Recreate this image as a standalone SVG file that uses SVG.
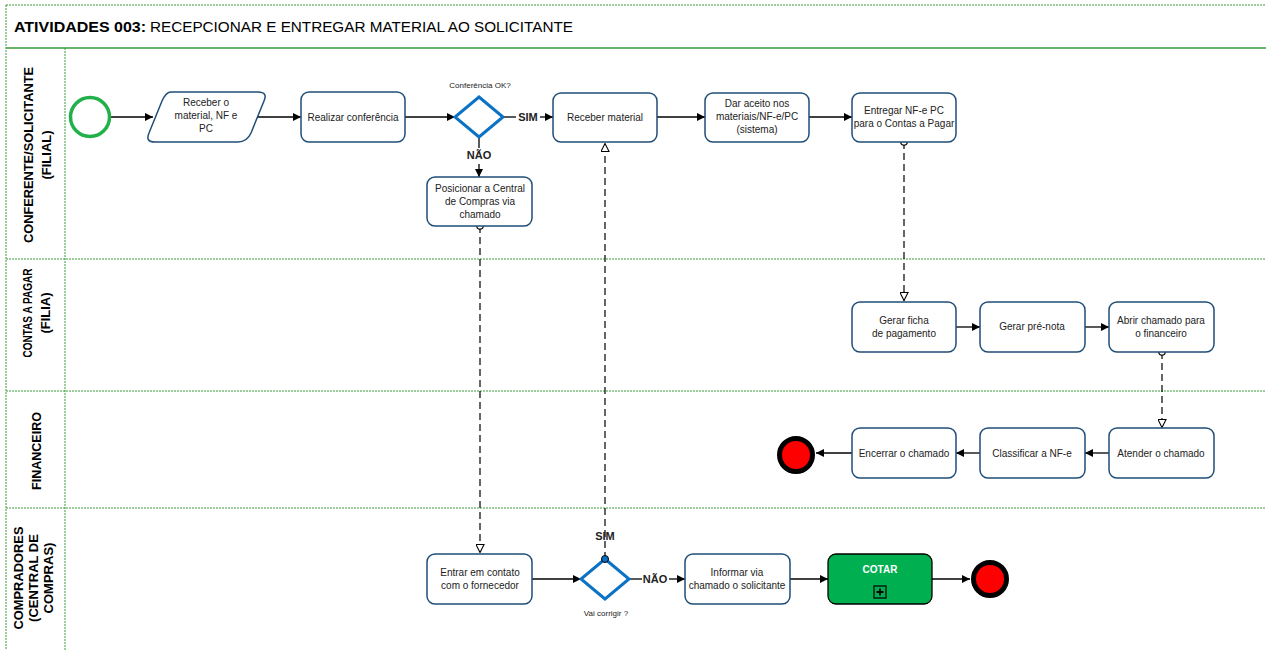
<svg xmlns="http://www.w3.org/2000/svg" width="1266" height="650" viewBox="0 0 1266 650">
<style>
.frame{fill:none;stroke:#3a9b3a;stroke-width:1;stroke-dasharray:2,1}
.lane{font-family:"Liberation Sans",Arial,sans-serif;font-size:13px;font-weight:bold;fill:#000;text-anchor:middle}
.task{fill:#fff;stroke:#1f4e79;stroke-width:1.5}
.t{font-family:"Liberation Sans",Arial,sans-serif;font-size:10px;fill:#222;text-anchor:middle}
.small{font-family:"Liberation Sans",Arial,sans-serif;font-size:8px;fill:#222;text-anchor:middle}
.lbl{font-family:"Liberation Sans",Arial,sans-serif;font-size:11px;font-weight:bold;fill:#222;text-anchor:middle}
.title{font-family:"Liberation Sans",Arial,sans-serif;font-size:15px;fill:#000}
.flow{fill:none;stroke:#000;stroke-width:1.3;marker-end:url(#arr)}
.msg{fill:none;stroke:#000;stroke-width:1.2;stroke-dasharray:7,4;marker-start:url(#circ);marker-end:url(#open)}
.gw{fill:#fff;stroke:#0b72c4;stroke-width:3}
.end{fill:#f00;stroke:#000;stroke-width:5}
</style>
<defs>
<marker id="arr" viewBox="0 0 10 10" refX="10" refY="5" markerWidth="8" markerHeight="8" markerUnits="userSpaceOnUse" orient="auto"><path d="M0,0L10,5L0,10z" fill="#000"/></marker>
<marker id="open" viewBox="0 0 10 10" refX="10" refY="5" markerWidth="9" markerHeight="9" markerUnits="userSpaceOnUse" orient="auto"><path d="M0.5,0.5L9.5,5L0.5,9.5z" fill="#fff" stroke="#000" stroke-width="1.2"/></marker>
<marker id="circ" viewBox="0 0 10 10" refX="5" refY="5" markerWidth="8" markerHeight="8" markerUnits="userSpaceOnUse" orient="auto"><circle cx="5" cy="5" r="4" fill="#fff" stroke="#000" stroke-width="1.5"/></marker>
</defs>
<rect x="0" y="0" width="1266" height="650" fill="#fff"/>
<g id="pool">
<rect class="frame" x="6" y="5" width="1270" height="660"/>
<line x1="6" y1="48" x2="1266" y2="48" stroke="#3a9b3a" stroke-width="1.5"/>
<line class="frame" x1="65" y1="48" x2="65" y2="650"/>
<line class="frame" x1="6" y1="259" x2="1266" y2="259"/>
<line class="frame" x1="6" y1="391" x2="1266" y2="391"/>
<line class="frame" x1="6" y1="508" x2="1266" y2="508"/>
<text class="title" x="14" y="32" font-weight="bold" textLength="132" lengthAdjust="spacingAndGlyphs">ATIVIDADES 003:</text>
<text class="title" x="150" y="32" textLength="423" lengthAdjust="spacingAndGlyphs">RECEPCIONAR E ENTREGAR MATERIAL AO SOLICITANTE</text>
<text class="lane" transform="translate(37,155) rotate(-90)"><tspan x="0" y="-4" textLength="176" lengthAdjust="spacingAndGlyphs">CONFERENTE/SOLICITANTE</tspan><tspan x="0" y="14">(FILIAL)</tspan></text>
<text class="lane" transform="translate(36,313) rotate(-90)"><tspan x="0" y="-4" textLength="89" lengthAdjust="spacingAndGlyphs">CONTAS A PAGAR</tspan><tspan x="0" y="14">(FILIA)</tspan></text>
<text class="lane" transform="translate(36,451) rotate(-90)"><tspan x="0" y="5" textLength="78" lengthAdjust="spacingAndGlyphs">FINANCEIRO</tspan></text>
<text class="lane" transform="translate(34,578) rotate(-90)"><tspan x="0" y="-11" textLength="103" lengthAdjust="spacingAndGlyphs">COMPRADORES</tspan><tspan x="0" y="4">(CENTRAL DE</tspan><tspan x="0" y="19">COMPRAS)</tspan></text>
</g>
<g id="connectors">
<line class="flow" x1="111" y1="117" x2="153" y2="117"/>
<line class="flow" x1="258" y1="117" x2="301" y2="117"/>
<line class="flow" x1="405" y1="117" x2="455" y2="117"/>
<line class="flow" x1="503" y1="117" x2="516" y2="117" style="marker-end:none"/>
<line class="flow" x1="540" y1="117" x2="553" y2="117"/>
<text class="lbl" x="528" y="121">SIM</text>
<line class="flow" x1="657" y1="117" x2="705" y2="117"/>
<line class="flow" x1="809" y1="117" x2="852" y2="117"/>
<line class="flow" x1="479" y1="137" x2="479" y2="148" style="marker-end:none"/>
<text class="lbl" x="479" y="159">NÃO</text>
<line class="flow" x1="479" y1="164" x2="479" y2="177"/>
<path class="msg" d="M480,226 L480,553"/>
<path class="msg" d="M904,142 L904,301"/>
<path class="msg" d="M1162,352 L1162,428"/>
<path class="msg" d="M605,559 L605,143" style="marker-start:none"/>
<text class="lbl" x="605" y="540">SIM</text>
<line class="flow" x1="956" y1="327" x2="980" y2="327"/>
<line class="flow" x1="1085" y1="327" x2="1109" y2="327"/>
<line class="flow" x1="1109" y1="453" x2="1085" y2="453"/>
<line class="flow" x1="980" y1="453" x2="956" y2="453"/>
<line class="flow" x1="852" y1="453" x2="816" y2="453"/>
<line class="flow" x1="532" y1="579" x2="581" y2="579"/>
<line class="flow" x1="629" y1="579" x2="642" y2="579" style="marker-end:none"/>
<text class="lbl" x="655" y="583">NÃO</text>
<line class="flow" x1="669" y1="579" x2="685" y2="579"/>
<line class="flow" x1="790" y1="579" x2="828" y2="579"/>
<line class="flow" x1="932" y1="579" x2="970" y2="579"/>
</g>
<g id="start"><circle cx="90" cy="117" r="19.5" fill="#fff" stroke="#22b04b" stroke-width="3.5"/></g>
<g id="receber-nf">
<path class="task" d="M171,92 L258,92 Q268,92 264,101 L251,133 Q247,142 238,142 L155,142 Q145,142 149,133 L162,101 Q166,92 171,92 Z"/>
<text class="t" x="206" y="106">Receber o</text><text class="t" x="206" y="119">material, NF e</text><text class="t" x="206" y="132">PC</text>
</g>
<g id="realizar"><rect class="task" x="301" y="92" width="104" height="50" rx="8"/><text class="t" x="353" y="121">Realizar conferência</text></g>
<g id="gw1"><path class="gw" d="M479,97 L503,117 L479,137 L455,117 Z"/><text class="small" x="480" y="88">Conferência OK?</text></g>
<g id="receber-mat"><rect class="task" x="553" y="93" width="104" height="49" rx="8"/><text class="t" x="605" y="121">Receber material</text></g>
<g id="dar-aceito"><rect class="task" x="705" y="93" width="104" height="49" rx="8"/><text class="t" x="757" y="107">Dar aceito nos</text><text class="t" x="757" y="120">materiais/NF-e/PC</text><text class="t" x="757" y="133">(sistema)</text></g>
<g id="entregar"><rect class="task" x="852" y="93" width="104" height="49" rx="8"/><text class="t" x="904" y="114">Entregar NF-e PC</text><text class="t" x="904" y="127">para o Contas a Pagar</text></g>
<g id="posicionar"><rect class="task" x="427" y="177" width="105" height="49" rx="8"/><text class="t" x="480" y="192">Posicionar a Central</text><text class="t" x="480" y="205">de Compras via</text><text class="t" x="480" y="218">chamado</text></g>
<g id="gerar-ficha"><rect class="task" x="852" y="302" width="104" height="50" rx="8"/><text class="t" x="904" y="324">Gerar ficha</text><text class="t" x="904" y="337">de pagamento</text></g>
<g id="pre-nota"><rect class="task" x="980" y="302" width="105" height="50" rx="8"/><text class="t" x="1032" y="330">Gerar pré-nota</text></g>
<g id="abrir"><rect class="task" x="1109" y="302" width="105" height="50" rx="8"/><text class="t" x="1161" y="324">Abrir chamado para</text><text class="t" x="1161" y="337">o financeiro</text></g>
<g id="atender"><rect class="task" x="1109" y="428" width="105" height="50" rx="8"/><text class="t" x="1161" y="457">Atender o chamado</text></g>
<g id="classificar"><rect class="task" x="980" y="428" width="105" height="50" rx="8"/><text class="t" x="1032" y="457">Classificar a NF-e</text></g>
<g id="encerrar"><rect class="task" x="852" y="428" width="104" height="50" rx="8"/><text class="t" x="904" y="457">Encerrar o chamado</text></g>
<g id="end1"><circle class="end" cx="796" cy="455" r="16.5"/></g>
<g id="contato"><rect class="task" x="427" y="554" width="105" height="50" rx="8"/><text class="t" x="480" y="576">Entrar em contato</text><text class="t" x="480" y="589">com o fornecedor</text></g>
<g id="gw2"><path class="gw" d="M605,559 L629,579 L605,599 L581,579 Z"/><circle cx="605" cy="559" r="3.5" fill="#0b72c4" stroke="#000" stroke-width="1"/><text class="small" x="606" y="616">Vai corrigir ?</text></g>
<g id="informar"><rect class="task" x="685" y="554" width="105" height="50" rx="8"/><text class="t" x="737" y="576">Informar via</text><text class="t" x="737" y="589">chamado o solicitante</text></g>
<g id="cotar"><rect x="828" y="554" width="104" height="50" rx="8" fill="#00b050" stroke="#000" stroke-width="1.3"/><text x="880" y="573" font-family="'Liberation Sans',Arial,sans-serif" font-size="10" font-weight="bold" fill="#fff" text-anchor="middle">COTAR</text><rect x="874" y="586" width="12" height="12" fill="none" stroke="#000" stroke-width="1.2"/><path d="M880,588.5V595.5M876.5,592H883.5" stroke="#000" stroke-width="1.8"/></g>
<g id="end2"><circle class="end" cx="990" cy="579" r="16.5"/></g>
</svg>
